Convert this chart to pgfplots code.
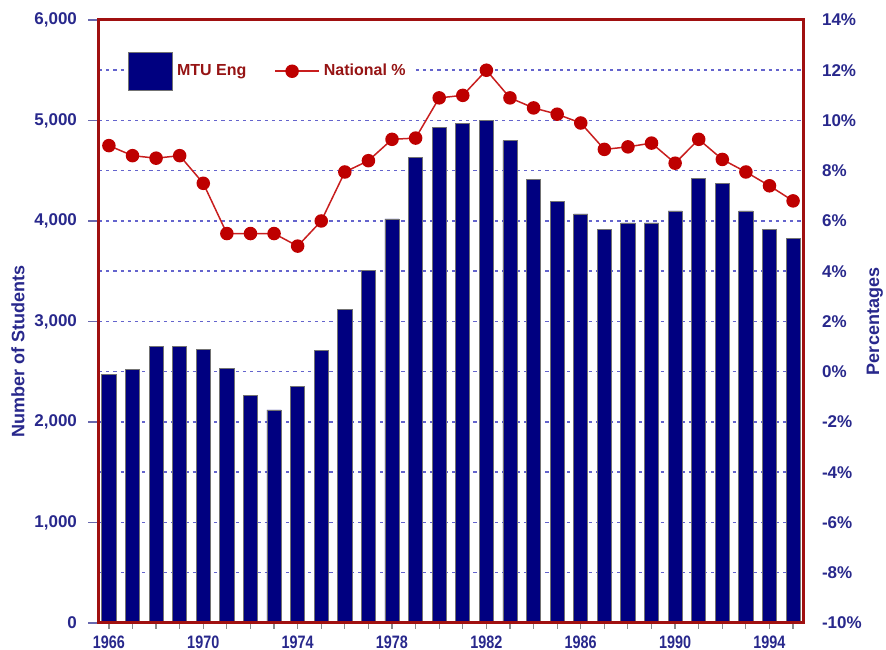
\documentclass[border=0pt]{standalone}
\usepackage{pgfplots}
\usepackage{pgfplotstable}
\pgfplotsset{compat=1.18}
\usetikzlibrary{calc}
\usepackage{fontspec}
\setmainfont{Liberation Sans}
\newfontfamily\narrowfont{Liberation Sans}[FakeStretch=0.8]

\definecolor{navy}{RGB}{0,0,128}
\definecolor{ticklab}{RGB}{40,40,140}
\definecolor{framered}{RGB}{160,16,16}
\definecolor{lred}{RGB}{200,30,30}
\definecolor{mred}{RGB}{190,0,0}
\definecolor{legred}{RGB}{150,20,20}
\definecolor{gridblue}{RGB}{100,100,205}

\pgfplotsset{
  linelegend/.style={legend image code/.code={\draw[mark repeat=2, mark phase=2, ##1] plot coordinates {(0pt,0pt) (8.5pt,0pt) (22pt,0pt)};}},
  barlegend/.style={legend image code/.code={\draw[fill=navy, draw=black!55, line width=0.5pt] (0pt,-9.5pt) rectangle (22pt,9.5pt);}},
}

\pgfplotstableread{
year stu pct
1966 2470 9.0
1967 2520 8.6
1968 2750 8.5
1969 2750 8.6
1970 2720 7.5
1971 2530 5.5
1972 2260 5.5
1973 2120 5.5
1974 2350 5.0
1975 2710 6.0
1976 3120 7.95
1977 3510 8.4
1978 4020 9.25
1979 4630 9.3
1980 4930 10.9
1981 4970 11.0
1982 5000 12.0
1983 4800 10.9
1984 4410 10.5
1985 4190 10.25
1986 4070 9.9
1987 3920 8.85
1988 3980 8.95
1989 3980 9.1
1990 4100 8.3
1991 4420 9.25
1992 4370 8.45
1993 4100 7.95
1994 3920 7.4
1995 3830 6.8
}\datatable

\begin{document}
\begin{tikzpicture}
\begin{axis}[name=ax,
  width=352pt, height=301.5pt, scale only axis,
  xmin=1965.58, xmax=1995.42, ymin=0, ymax=6000,
  axis line style={draw=none},
  xtick=\empty,
  ytick={0,1000,...,6000}, minor ytick={500,1500,...,5500},
  ymajorgrids, yminorgrids,
  major grid style={dash pattern=on 1.6pt off 2pt, line width=0.75pt, color=gridblue},
  minor grid style={dash pattern=on 1.6pt off 2pt, line width=0.75pt, color=gridblue},
  ytick pos=left, tick align=outside,
  major tick length=5.5pt, minor tick length=0pt,
  y tick style={color=ticklab!70!white, line width=0.9pt},
  /pgf/number format/assume math mode=true,
  yticklabel style={font=\bfseries\fontsize{8.5}{10}\selectfont, color=ticklab, xshift=-2pt},
  ylabel={Number of Students},
  ylabel style={at={(axis description cs:-0.115,0.45)}, anchor=center, rotate=0,
    font=\bfseries\fontsize{9}{10}\selectfont, color=ticklab},
]
\addplot[ybar, bar width=0.6, fill=navy, draw=black!55, line width=0.4pt]
  table[x=year, y=stu]{\datatable};
\end{axis}
\begin{axis}[
  width=352pt, height=301.5pt, scale only axis,
  xmin=1965.58, xmax=1995.42, ymin=-10, ymax=14,
  axis line style={draw=framered, line width=1.5pt},
  xtick={1966,...,1995},
  xticklabels={1966,,,,1970,,,,1974,,,,1978,,,,1982,,,,1986,,,,1990,,,,1994,},
  xtick pos=bottom, ytick pos=right,
  ytick={-10,-8,...,14},
  yticklabel={\pgfmathprintnumber{\tick}\%},
  tick align=outside, major tick length=3pt,
  x tick style={color=black!45, line width=0.6pt},
  y tick style={draw=none},
  /pgf/number format/assume math mode=true,
  xticklabel style={font=\narrowfont\bfseries\fontsize{9}{10}\selectfont, color=ticklab},
  yticklabel style={font=\bfseries\fontsize{8.5}{10}\selectfont, color=ticklab, xshift=3pt},
  ylabel={Percentages},
  ylabel style={at={(axis description cs:1.102,0.5)}, anchor=center, rotate=0,
    font=\bfseries\fontsize{9}{10}\selectfont, color=ticklab},
  legend style={at={(0.035,0.915)}, anchor=west, draw=none, fill=white,
    legend columns=2, font=\bfseries\fontsize{8}{9}\selectfont, text=legred,
    /tikz/every even column/.append style={column sep=12pt}, inner sep=2pt},
  legend cell align=left,
]
\addlegendimage{barlegend}
\addlegendentry{MTU Eng}
\addplot[lred, line width=0.75pt, mark=*, mark size=3pt,
  mark options={fill=mred, draw=mred}, linelegend]
  table[x=year, y=pct]{\datatable};
\addlegendentry{National \%}
\end{axis}
\pgfresetboundingbox
\path ($(ax.south west)+(-49.5pt,-13.5pt)$) rectangle ($(ax.north east)+(41.5pt,10pt)$);
\end{tikzpicture}
\end{document}
